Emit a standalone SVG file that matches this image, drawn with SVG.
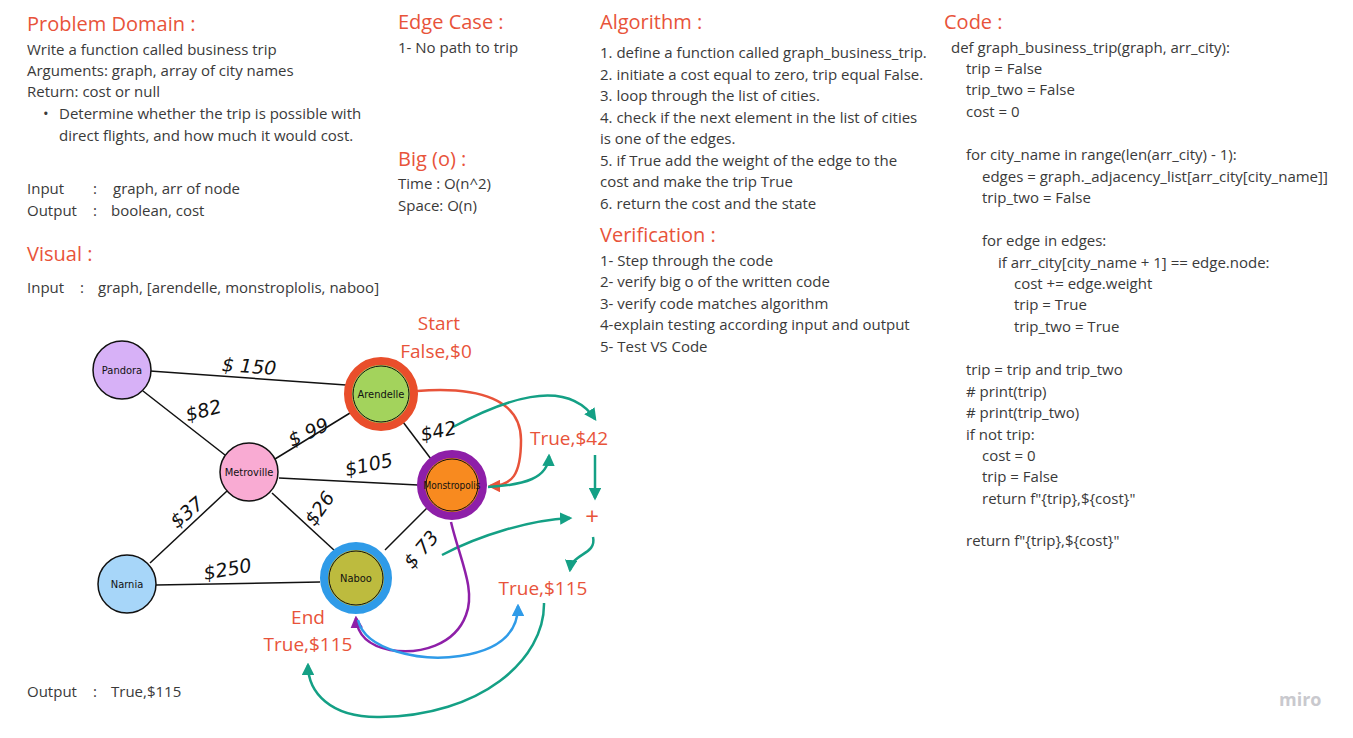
<svg xmlns="http://www.w3.org/2000/svg" width="1353" height="738" viewBox="0 0 1353 738">
<defs>
<style>
text{font-family:"Open Sans","Noto Sans","Liberation Sans",sans-serif;}
.h{font-size:20px;fill:#e8533a;}
.b{font-size:15px;fill:#3a3a3a;}
.r{font-size:19px;fill:#e8533a;}
.hw{font-family:"DejaVu Sans","Liberation Sans",sans-serif;font-size:19px;fill:#111;font-style:italic;}
.nl{font-family:"DejaVu Sans Condensed","DejaVu Sans",sans-serif;font-size:11px;fill:#111;text-anchor:middle;}
.edge{stroke:#111;stroke-width:1.5;fill:none;}
.nc{stroke:#111;stroke-width:1.5;}
.g{stroke:#14a085;stroke-width:2.5;fill:none;}
</style>
<marker id="ag" viewBox="0 0 10 10" refX="8" refY="5" markerWidth="5" markerHeight="5" orient="auto-start-reverse"><path d="M0,0 L10,5 L0,10 z" fill="#14a085"/></marker>
<marker id="ar" viewBox="0 0 10 10" refX="8" refY="5" markerWidth="5" markerHeight="5" orient="auto"><path d="M0,0 L10,5 L0,10 z" fill="#e8533a"/></marker>
<marker id="ap" viewBox="0 0 10 10" refX="8" refY="5" markerWidth="5" markerHeight="5" orient="auto"><path d="M0,0 L10,5 L0,10 z" fill="#8e1fa8"/></marker>
<marker id="ab" viewBox="0 0 10 10" refX="8" refY="5" markerWidth="5" markerHeight="5" orient="auto"><path d="M0,0 L10,5 L0,10 z" fill="#2f9be8"/></marker>
</defs>
<rect width="1353" height="738" fill="#ffffff"/>

<g id="problem-domain">
<text class="h" x="27" y="31">Problem Domain :</text>
<text class="b" x="27" y="55">Write a function called business trip</text>
<text class="b" x="27" y="76">Arguments: graph, array of city names</text>
<text class="b" x="27" y="97">Return: cost or null</text>
<text class="b" x="43" y="119">•</text>
<text class="b" x="59" y="119">Determine whether the trip is possible with</text>
<text class="b" x="59" y="141">direct flights, and how much it would cost.</text>
<text class="b" x="27" y="194">Input</text><text class="b" x="93" y="194">:</text><text class="b" x="113" y="194">graph, arr of node</text>
<text class="b" x="27" y="216">Output</text><text class="b" x="93" y="216">:</text><text class="b" x="111" y="216">boolean, cost</text>
</g>

<g id="visual">
<text class="h" x="27" y="261">Visual :</text>
<text class="b" x="27" y="293">Input</text><text class="b" x="80" y="293">:</text><text class="b" x="98" y="293">graph, [arendelle, monstroplolis, naboo]</text>
<text class="b" x="27" y="697">Output</text><text class="b" x="93" y="697">:</text><text class="b" x="111" y="697">True,$115</text>
</g>

<g id="edge-case">
<text class="h" x="398" y="29">Edge Case :</text>
<text class="b" x="398" y="53">1- No path to trip</text>
<text class="h" x="398" y="166">Big (o) :</text>
<text class="b" x="398" y="189">Time : O(n^2)</text>
<text class="b" x="398" y="211">Space: O(n)</text>
</g>

<g id="algorithm">
<text class="h" x="600" y="29">Algorithm :</text>
<text class="b" x="600" y="58">1. define a function called graph_business_trip.</text>
<text class="b" x="600" y="80">2. initiate a cost equal to zero, trip equal False.</text>
<text class="b" x="600" y="101">3. loop through the list of cities.</text>
<text class="b" x="600" y="123">4. check if the next element in the list of cities</text>
<text class="b" x="600" y="144">is one of the edges.</text>
<text class="b" x="600" y="166">5. if True add the weight of the edge to the</text>
<text class="b" x="600" y="187">cost and make the trip True</text>
<text class="b" x="600" y="209">6. return the cost and the state</text>
<text class="h" x="600" y="242">Verification :</text>
<text class="b" x="600" y="266">1- Step through the code</text>
<text class="b" x="600" y="287">2- verify big o of the written code</text>
<text class="b" x="600" y="309">3- verify code matches algorithm</text>
<text class="b" x="600" y="330">4-explain testing according input and output</text>
<text class="b" x="600" y="352">5- Test VS Code</text>
</g>

<g id="code">
<text class="h" x="944" y="29">Code :</text>
<text class="b" x="951" y="53">def graph_business_trip(graph, arr_city):</text>
<text class="b" x="966" y="74">trip = False</text>
<text class="b" x="966" y="95">trip_two = False</text>
<text class="b" x="966" y="117">cost = 0</text>
<text class="b" x="966" y="160">for city_name in range(len(arr_city) - 1):</text>
<text class="b" x="982" y="182">edges = graph._adjacency_list[arr_city[city_name]]</text>
<text class="b" x="982" y="203">trip_two = False</text>
<text class="b" x="982" y="246">for edge in edges:</text>
<text class="b" x="998" y="268">if arr_city[city_name + 1] == edge.node:</text>
<text class="b" x="1014" y="289">cost += edge.weight</text>
<text class="b" x="1014" y="310">trip = True</text>
<text class="b" x="1014" y="332">trip_two = True</text>
<text class="b" x="966" y="375">trip = trip and trip_two</text>
<text class="b" x="966" y="397">#  print(trip)</text>
<text class="b" x="966" y="418">#  print(trip_two)</text>
<text class="b" x="966" y="440">if not trip:</text>
<text class="b" x="982" y="461">cost = 0</text>
<text class="b" x="982" y="482">trip = False</text>
<text class="b" x="982" y="504">return f"{trip},${cost}"</text>
<text class="b" x="966" y="546">return f"{trip},${cost}"</text>
</g>

<g id="connectors">
<line class="edge" x1="150" y1="371" x2="346" y2="385"/>
<line class="edge" x1="143" y1="391" x2="225" y2="455"/>
<line class="edge" x1="275" y1="459" x2="350" y2="413"/>
<line class="edge" x1="279" y1="478" x2="418" y2="485"/>
<line class="edge" x1="272" y1="493" x2="335" y2="551"/>
<line class="edge" x1="227" y1="491" x2="150" y2="563"/>
<line class="edge" x1="156" y1="585" x2="320" y2="582"/>
<line class="edge" x1="403" y1="422" x2="431" y2="459"/>
<line class="edge" x1="427" y1="508" x2="385" y2="550"/>
<path d="M417,391 C480,386 521,400 521,440 C521,475 512,486 490,486" stroke="#e8533a" stroke-width="2.5" fill="none" marker-end="url(#ar)"/>
<path class="g" d="M453,427 C500,402 565,375 595,419" marker-end="url(#ag)"/>
<path class="g" d="M488,487 C525,485 548,478 549,456" marker-end="url(#ag)"/>
<path class="g" d="M595,455 L595,498" marker-end="url(#ag)"/>
<path class="g" d="M442,555 C480,535 530,520 570,518" marker-end="url(#ag)"/>
<path class="g" d="M593,537 C597,555 572,553 570,570" marker-end="url(#ag)"/>
<path d="M451,522 C460,560 476,590 466,615 C455,645 420,655 390,650 C365,645 357,632 356,618" stroke="#8e1fa8" stroke-width="2.5" fill="none" marker-end="url(#ap)"/>
<path d="M358,620 C365,650 420,662 460,656 C500,650 518,632 518,606" stroke="#2f9be8" stroke-width="2.5" fill="none" marker-end="url(#ab)"/>
<path class="g" d="M544,603 C545,660 480,716 380,717 C330,718 308,692 308,665" marker-end="url(#ag)"/>
</g>

<g id="edge-labels">
<text class="hw" x="222" y="373" transform="rotate(4 250 365)">$ 150</text>
<text class="hw" x="185" y="418" transform="rotate(-15 200 410)">$82</text>
<text class="hw" x="286" y="440" transform="rotate(-25 305 430)">$ 99</text>
<text class="hw" x="344" y="472" transform="rotate(-12 365 462)">$105</text>
<text class="hw" x="302" y="517" transform="rotate(-55 318 510)">$26</text>
<text class="hw" x="168" y="520" transform="rotate(-40 185 512)">$37</text>
<text class="hw" x="203" y="575" transform="rotate(-10 232 567)">$250</text>
<text class="hw" x="420" y="438" transform="rotate(-12 436 430)">$42</text>
<text class="hw" x="400" y="557" transform="rotate(-50 420 550)">$ 73</text>
</g>

<g id="pandora"><circle class="nc" cx="122" cy="370" r="29" fill="#d7b1f7"/><text class="nl" x="122" y="374">Pandora</text></g>
<g id="metroville"><circle class="nc" cx="249" cy="472" r="29" fill="#f9abd3"/><text class="nl" x="249" y="476">Metroville</text></g>
<g id="narnia"><circle class="nc" cx="127" cy="584" r="29" fill="#a7d6f9"/><text class="nl" x="127" y="588">Narnia</text></g>
<g id="arendelle"><circle cx="381" cy="394" r="33" fill="#a3d35c" stroke="#e94e2b" stroke-width="8"/><circle cx="381" cy="394" r="28" fill="none" stroke="#111" stroke-width="1"/><text class="nl" x="381" y="398">Arendelle</text></g>
<g id="monstropolis"><circle cx="452" cy="485" r="31" fill="#f88a1f" stroke="#8e1fa8" stroke-width="8"/><circle cx="452" cy="485" r="26" fill="none" stroke="#111" stroke-width="1"/><text class="nl" x="452" y="489" style="font-size:10px">Monstropolis</text></g>
<g id="naboo"><circle cx="356" cy="578" r="32" fill="#bdbb3e" stroke="#2f9be8" stroke-width="8"/><circle cx="356" cy="578" r="27" fill="none" stroke="#111" stroke-width="1"/><text class="nl" x="356" y="582">Naboo</text></g>

<g id="state-labels">
<text class="r" x="439" y="330" text-anchor="middle">Start</text>
<text class="r" x="436" y="358" text-anchor="middle">False,$0</text>
<text class="r" x="569" y="445" text-anchor="middle">True,$42</text>
<text class="r" x="592" y="525" text-anchor="middle" style="font-size:24px">+</text>
<text class="r" x="543" y="595" text-anchor="middle">True,$115</text>
<text class="r" x="308" y="624" text-anchor="middle">End</text>
<text class="r" x="308" y="651" text-anchor="middle">True,$115</text>
</g>

<text x="1279" y="706" style="font-family:'Open Sans',sans-serif;font-size:18px;font-weight:bold;fill:#c9c9ce">miro</text>
</svg>
